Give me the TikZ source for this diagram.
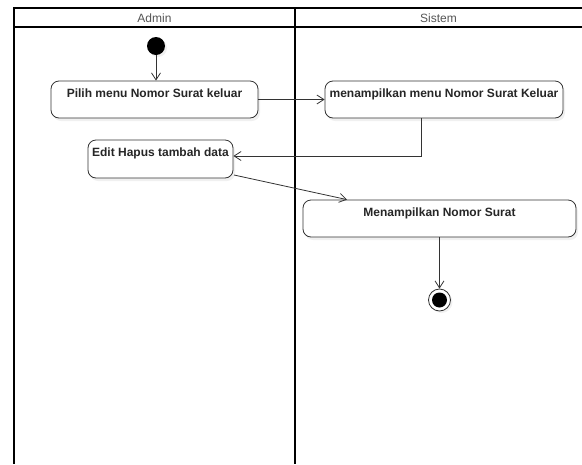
\documentclass[tikz,border=0pt]{standalone}
\usepackage{fontspec}
\setmainfont{Liberation Sans}
\usetikzlibrary{arrows.meta,shadows}
\definecolor{lineg}{HTML}{333333}
\definecolor{headg}{HTML}{555555}
\tikzset{
  lane/.style={line width=1.6pt, black},
  headtext/.style={font=\fontsize{12}{14}\selectfont, text=headg},
  action/.style={draw=lineg, line width=0.8pt, rounded corners=8pt, fill=white,
    font=\bfseries\fontsize{12}{14}\selectfont, text=black!85,
    inner xsep=2pt, inner ysep=4pt, text height=12pt, text depth=17pt,
    drop shadow={shadow xshift=2pt, shadow yshift=-3pt, opacity=0.12}},
  flow/.style={draw=lineg, line width=0.8pt, -{Straight Barb[length=7pt,width=9pt]}},
  startnode/.style={circle, fill=black, minimum size=18pt, inner sep=0pt,
    drop shadow={shadow xshift=2pt, shadow yshift=-2pt, opacity=0.12}},
  endouter/.style={circle, draw=lineg, line width=0.8pt, fill=white, minimum size=22pt, inner sep=0pt,
    drop shadow={shadow xshift=2pt, shadow yshift=-2pt, opacity=0.12}},
  endinner/.style={circle, fill=black, minimum size=15pt, inner sep=0pt}
}
\begin{document}
\begin{tikzpicture}[x=1pt,y=-1pt]
\useasboundingbox (0,0) rectangle (582,464);
% swimlanes
\draw[lane] (582,8) -- (14,8) -- (14,464);
\draw[lane] (14,27) -- (582,27);
\draw[lane] (295,8) -- (295,464);
\node[headtext] (hA) at (154.5,18) {Admin};
\node[headtext] (hS) at (438.5,18) {Sistem};
% nodes
\node[startnode] (start) at (156,46) {};
\node[action, minimum width=207pt, minimum height=37pt] (a1) at (154.5,99.5) {Pilih menu Nomor Surat keluar};
\node[action, minimum width=238pt, minimum height=37pt] (a2) at (444,99.5) {menampilkan menu Nomor Surat Keluar};
\node[action, minimum width=145pt, minimum height=38pt] (a3) at (160.5,159) {Edit Hapus tambah data};
\node[action, minimum width=273pt, minimum height=37pt] (a4) at (439.5,218.5) {Menampilkan Nomor Surat};
\node[endouter] (endo) at (439.5,300) {};
\node[endinner] (endi) at (endo.center) {};
% helper coordinates
\coordinate (bend) at (421,156);
\coordinate (p3) at (234,175);
\coordinate (q4) at (347,0);
% connectors
\draw[flow] (start.south) -- (start.south |- a1.north);
\draw[flow] (a1.east) -- (a2.west);
\draw[flow] (a2.south -| bend) -- (bend) -- (bend -| a3.east);
\draw[flow] (p3) -- (a4.north -| q4);
\draw[flow] (a4.south) -- (endo.north);
\end{tikzpicture}
\end{document}
